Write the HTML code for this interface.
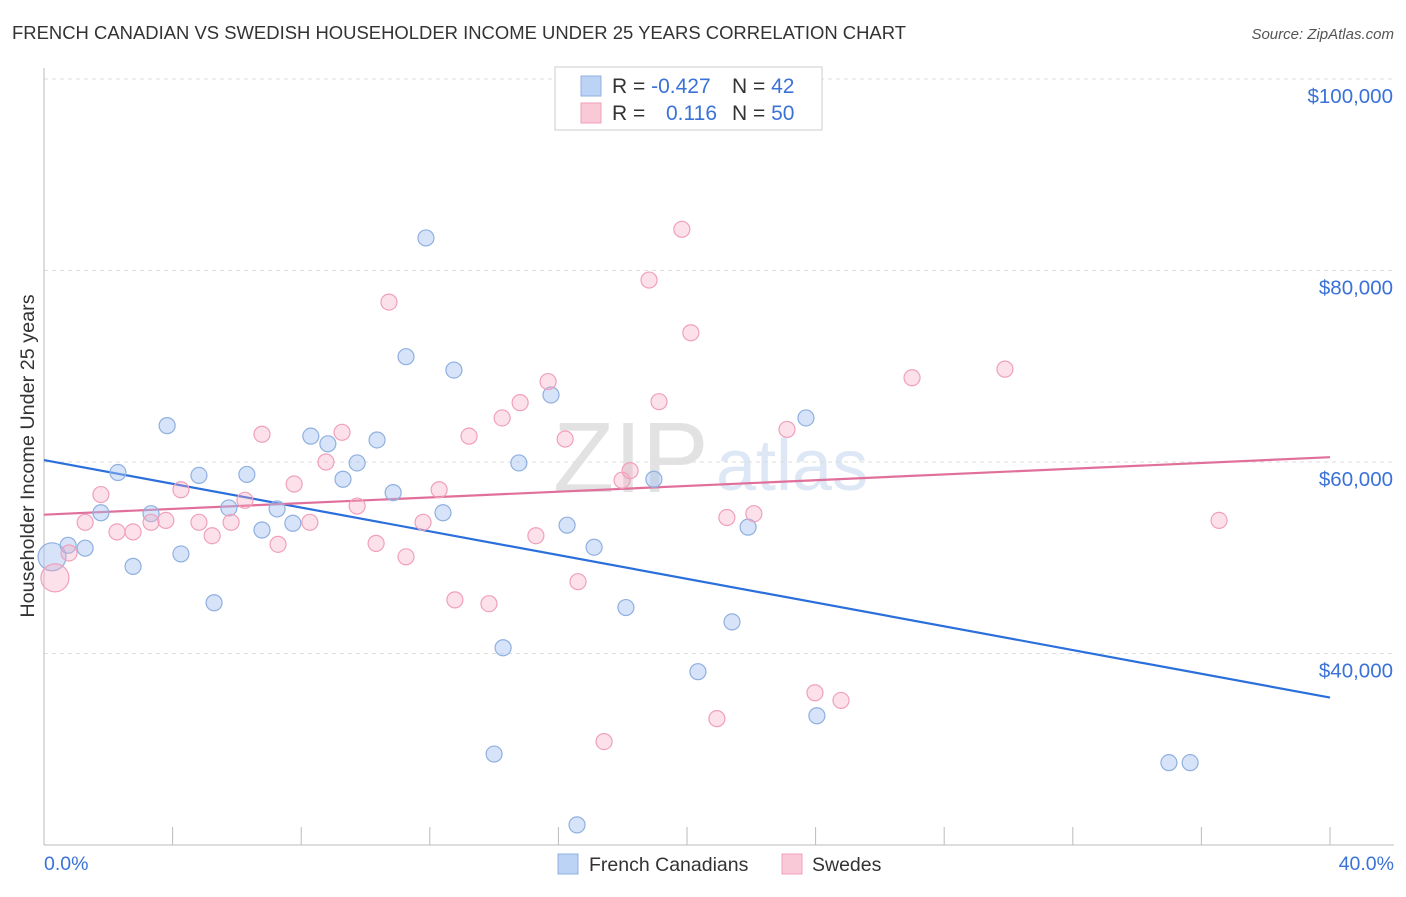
<!DOCTYPE html>
<html><head><meta charset="utf-8"><style>
body{margin:0;background:#fff;font-family:"Liberation Sans",sans-serif;}
svg text{font-family:"Liberation Sans",sans-serif;}
</style></head><body>
<svg id="chart" width="1406" height="892" xmlns="http://www.w3.org/2000/svg">
<text x="12" y="39" font-size="18" fill="#333" textLength="894" lengthAdjust="spacingAndGlyphs">FRENCH CANADIAN VS SWEDISH HOUSEHOLDER INCOME UNDER 25 YEARS CORRELATION CHART</text>
<text x="1394" y="39" font-size="15" fill="#555" text-anchor="end" font-style="italic">Source: ZipAtlas.com</text>
<text x="553" y="492" font-size="100" fill="#e2e2e2" font-family="Liberation Serif">ZIP</text>
<text x="716" y="490" font-size="72" fill="#dde7f5">atlas</text>
<g id="grid"></g><g id="axes"></g><g id="lines"></g><g id="pts"></g>
<text transform="translate(34,456) rotate(-90)" font-size="19.8" fill="#333" text-anchor="middle">Householder Income Under 25 years</text>
<text x="44" y="870" font-size="19.5" fill="#3a72d8">0.0%</text>
<text x="1394" y="870" font-size="19.5" fill="#3a72d8" text-anchor="end">40.0%</text>
<g>
<rect x="555" y="67" width="267" height="63" fill="#fff" stroke="#ccc"/>
<rect x="581" y="76" width="20" height="20" fill="#bcd3f5" stroke="#8fb0e0"/>
<rect x="581" y="103" width="20" height="20" fill="#f9c9d8" stroke="#f0a0bb"/>
<text x="612" y="93" font-size="21" fill="#333">R = <tspan fill="#3a72d8">-0.427</tspan><tspan x="732">N = </tspan><tspan fill="#3a72d8">42</tspan></text>
<text x="612" y="120" font-size="21" fill="#333">R = <tspan x="666" fill="#3a72d8">0.116</tspan><tspan x="732">N = </tspan><tspan fill="#3a72d8">50</tspan></text>
</g>
<g>
<rect x="558" y="854" width="20" height="20" fill="#bcd3f5" stroke="#8fb0e0"/>
<text x="589" y="871" font-size="19.5" fill="#333">French Canadians</text>
<rect x="782" y="854" width="20" height="20" fill="#f9c9d8" stroke="#f0a0bb"/>
<text x="812" y="871" font-size="19.5" fill="#333">Swedes</text>
</g>
</svg>
<script>
const yTicks=[40000,60000,80000,100000];
const yTickLabels=["$40,000","$60,000","$80,000","$100,000"];
const blueX=[0.25,0.75,1.28,1.77,2.30,2.77,3.33,3.83,4.26,4.82,5.29,5.75,6.31,6.78,7.25,7.74,8.30,8.83,9.30,9.74,10.36,10.86,11.26,11.88,12.41,12.75,14.28,14.00,14.77,15.77,16.27,16.58,17.11,18.10,18.97,20.34,21.40,21.90,23.70,24.04,34.99,35.65];
const blueY=[50100,51300,51000,54700,58900,49100,54600,63800,50400,58600,45300,55200,58700,52900,55100,53600,62700,61900,58200,59900,62300,56800,71000,83400,54700,69600,40600,29500,59900,67000,53400,22100,51100,44800,58200,38100,43300,53200,64600,33500,28600,28600];
const pinkX=[0.34,0.78,1.28,1.77,2.27,2.77,3.33,3.79,4.26,4.82,5.23,5.82,6.25,6.78,7.28,7.78,8.27,8.77,9.27,9.74,10.33,10.73,11.26,11.79,12.29,12.78,13.22,13.84,14.25,14.81,15.30,15.68,16.21,16.61,17.42,17.98,18.23,18.82,19.13,19.84,20.12,20.93,21.24,22.08,23.11,23.98,24.79,27.0,29.89,36.55];
const pinkY=[47900,50500,53700,56600,52700,52700,53700,53900,57100,53700,52300,53700,56000,62900,51400,57700,53700,60000,63100,55400,51500,76700,50100,53700,57100,45600,62700,45200,64600,66200,52300,68400,62400,47500,30800,58100,59100,79000,66300,84300,73500,33200,54200,54600,63400,35900,35100,68800,69700,53900];
const blueTrend=[60200,35400];
const pinkTrend=[54500,60500];
const NS="http://www.w3.org/2000/svg";
const X=v=>44+v/40*1286;
const Y=v=>845-(v-20000)/20000*191.5;
function mk(tag,parent,attrs){const e=document.createElementNS(NS,tag);for(const k in attrs)e.setAttribute(k,attrs[k]);document.getElementById(parent).appendChild(e);return e;}
yTicks.forEach((t,i)=>{
 const l=mk('line','grid',{x1:44,x2:1394,y1:Y(t),y2:Y(t),stroke:'#ddd','stroke-dasharray':'4,4'});
 
 
 const tx=mk('text','grid',{x:1393,y:Y(t)+24,'font-size':20.5,fill:'#3a72d8','text-anchor':'end'});
 tx.textContent=yTickLabels[i];
 
 
});
const ax=mk('line','axes',{x1:44,x2:1394,y1:845,y2:845,stroke:'#bbb'});


const ay=mk('line','axes',{x1:44,x2:44,y1:68,y2:845,stroke:'#bbb'});


for(let i=0;i<=10;i++){
 const t=mk('line','axes',{x1:X(i*4),x2:X(i*4),y1:827,y2:845,stroke:'#bbb'});
 
 
}
function pts(xs,ys,fill,stroke,name){
 xs.forEach((x,i)=>{
  const c=mk('circle','pts',{cx:X(x),cy:Y(ys[i]),r:i===0?14:8,fill:fill,stroke:stroke,'stroke-width':1.2});
  
  
 });
}
pts(blueX,blueY,'rgba(164,194,240,0.45)','#8fb0e0','french-canadian-point');
pts(pinkX,pinkY,'rgba(245,170,195,0.35)','#f0a0bb','swede-point');
const bl=mk('line','lines',{x1:X(0),x2:X(40),y1:Y(blueTrend[0]),y2:Y(blueTrend[1]),stroke:'#2a6fdb','stroke-width':2.2});


const pl=mk('line','lines',{x1:X(0),x2:X(40),y1:Y(pinkTrend[0]),y2:Y(pinkTrend[1]),stroke:'#e0709a','stroke-width':2.2});


</script>
</body></html>
